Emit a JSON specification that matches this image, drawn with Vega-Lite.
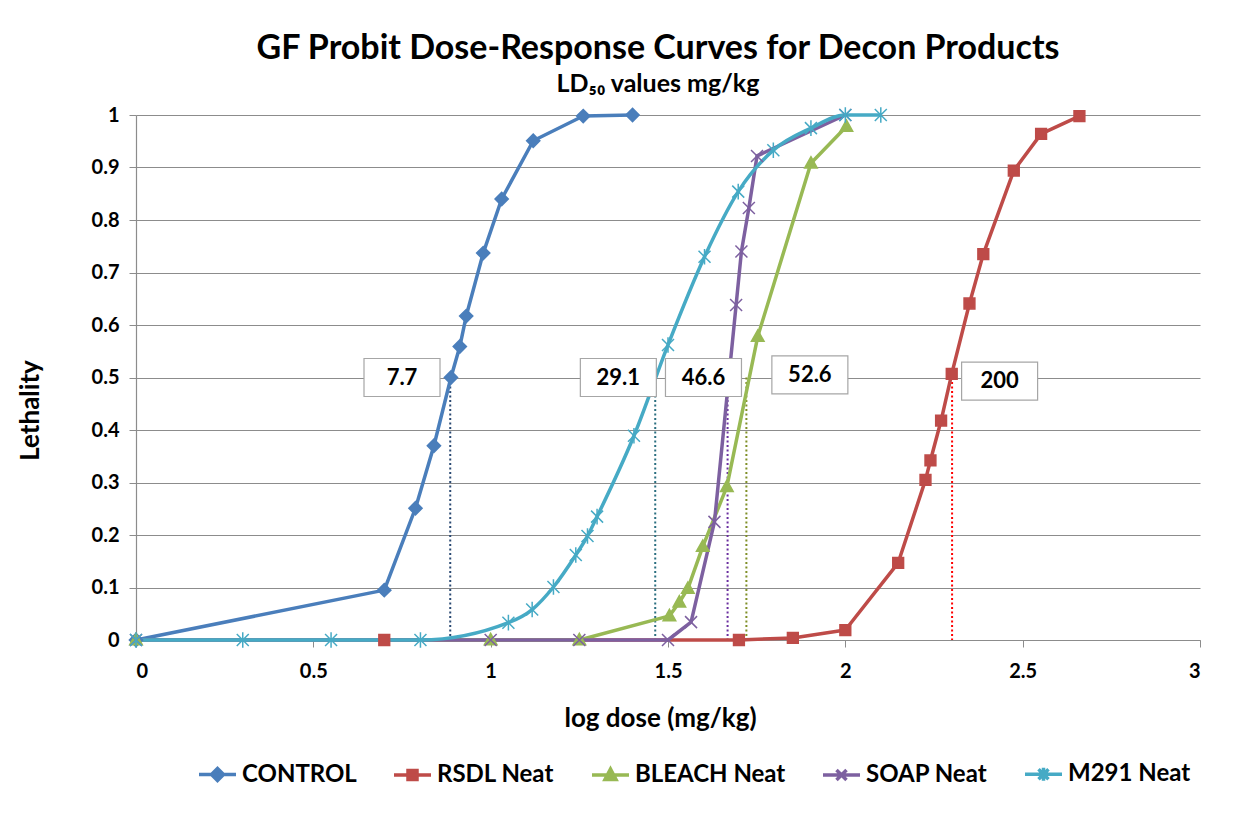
{
  "$schema": "https://vega.github.io/schema/vega-lite/v6.json",
  "width": 1064,
  "height": 525,
  "autosize": {"type": "none"},
  "padding": {"left": 136, "top": 115, "right": 40, "bottom": 189},
  "background": "white",
  "config": {
    "font": "Lato",
    "view": {"stroke": null},
    "axis": {
      "labelFont": "Lato",
      "labelFontSize": 20,
      "labelFontWeight": "bold",
      "labelColor": "black",
      "titleFont": "Lato",
      "titleFontSize": 26,
      "titleFontWeight": "bold",
      "titleColor": "black",
      "domainColor": "#8c8c8c",
      "domainWidth": 1.2,
      "tickColor": "#8c8c8c",
      "tickSize": 7,
      "gridColor": "#8c8c8c",
      "gridWidth": 1.2
    }
  },
  "title": {
    "text": "GF Probit Dose-Response Curves for Decon Products",
    "subtitle": "LD₅₀ values mg/kg",
    "font": "Lato",
    "fontSize": 34,
    "fontWeight": "bold",
    "color": "black",
    "subtitleFont": "Lato",
    "subtitleFontSize": 25,
    "subtitleFontWeight": "bold",
    "subtitleColor": "black",
    "subtitlePadding": 6,
    "anchor": "middle",
    "offset": 7,
    "dx": -10
  },
  "datasets": {
    "curves": [
      {"series": "CONTROL", "logdose": 0, "lethality": 0},
      {"series": "CONTROL", "logdose": 0.70, "lethality": 0.095},
      {"series": "CONTROL", "logdose": 0.788, "lethality": 0.251},
      {"series": "CONTROL", "logdose": 0.840, "lethality": 0.370},
      {"series": "CONTROL", "logdose": 0.888, "lethality": 0.500},
      {"series": "CONTROL", "logdose": 0.913, "lethality": 0.559},
      {"series": "CONTROL", "logdose": 0.931, "lethality": 0.617},
      {"series": "CONTROL", "logdose": 0.979, "lethality": 0.737},
      {"series": "CONTROL", "logdose": 1.031, "lethality": 0.840},
      {"series": "CONTROL", "logdose": 1.120, "lethality": 0.951},
      {"series": "CONTROL", "logdose": 1.261, "lethality": 0.998},
      {"series": "CONTROL", "logdose": 1.400, "lethality": 1.0},
      {"series": "RSDL Neat", "logdose": 0.70, "lethality": 0},
      {"series": "RSDL Neat", "logdose": 1.70, "lethality": 0},
      {"series": "RSDL Neat", "logdose": 1.852, "lethality": 0.004},
      {"series": "RSDL Neat", "logdose": 2.0, "lethality": 0.019},
      {"series": "RSDL Neat", "logdose": 2.149, "lethality": 0.147},
      {"series": "RSDL Neat", "logdose": 2.226, "lethality": 0.305},
      {"series": "RSDL Neat", "logdose": 2.240, "lethality": 0.342},
      {"series": "RSDL Neat", "logdose": 2.270, "lethality": 0.418},
      {"series": "RSDL Neat", "logdose": 2.300, "lethality": 0.507},
      {"series": "RSDL Neat", "logdose": 2.350, "lethality": 0.641},
      {"series": "RSDL Neat", "logdose": 2.389, "lethality": 0.735},
      {"series": "RSDL Neat", "logdose": 2.475, "lethality": 0.894},
      {"series": "RSDL Neat", "logdose": 2.552, "lethality": 0.964},
      {"series": "RSDL Neat", "logdose": 2.660, "lethality": 0.998},
      {"series": "BLEACH Neat", "logdose": 0, "lethality": 0},
      {"series": "BLEACH Neat", "logdose": 1.0, "lethality": 0},
      {"series": "BLEACH Neat", "logdose": 1.25, "lethality": 0},
      {"series": "BLEACH Neat", "logdose": 1.504, "lethality": 0.046},
      {"series": "BLEACH Neat", "logdose": 1.532, "lethality": 0.072},
      {"series": "BLEACH Neat", "logdose": 1.556, "lethality": 0.098},
      {"series": "BLEACH Neat", "logdose": 1.598, "lethality": 0.178},
      {"series": "BLEACH Neat", "logdose": 1.666, "lethality": 0.292},
      {"series": "BLEACH Neat", "logdose": 1.753, "lethality": 0.578},
      {"series": "BLEACH Neat", "logdose": 1.903, "lethality": 0.908},
      {"series": "BLEACH Neat", "logdose": 2.003, "lethality": 0.978},
      {"series": "SOAP Neat", "logdose": 0, "lethality": 0},
      {"series": "SOAP Neat", "logdose": 1.0, "lethality": 0},
      {"series": "SOAP Neat", "logdose": 1.25, "lethality": 0},
      {"series": "SOAP Neat", "logdose": 1.50, "lethality": 0},
      {"series": "SOAP Neat", "logdose": 1.565, "lethality": 0.034},
      {"series": "SOAP Neat", "logdose": 1.631, "lethality": 0.225},
      {"series": "SOAP Neat", "logdose": 1.692, "lethality": 0.638},
      {"series": "SOAP Neat", "logdose": 1.707, "lethality": 0.740},
      {"series": "SOAP Neat", "logdose": 1.728, "lethality": 0.823},
      {"series": "SOAP Neat", "logdose": 1.751, "lethality": 0.922},
      {"series": "SOAP Neat", "logdose": 2.0, "lethality": 1.0},
      {"series": "M291 Neat", "logdose": 0, "lethality": 0},
      {"series": "M291 Neat", "logdose": 0.301, "lethality": 0},
      {"series": "M291 Neat", "logdose": 0.550, "lethality": 0},
      {"series": "M291 Neat", "logdose": 0.802, "lethality": 0},
      {"series": "M291 Neat", "logdose": 1.050, "lethality": 0.033},
      {"series": "M291 Neat", "logdose": 1.117, "lethality": 0.058},
      {"series": "M291 Neat", "logdose": 1.177, "lethality": 0.101},
      {"series": "M291 Neat", "logdose": 1.240, "lethality": 0.162},
      {"series": "M291 Neat", "logdose": 1.273, "lethality": 0.198},
      {"series": "M291 Neat", "logdose": 1.300, "lethality": 0.235},
      {"series": "M291 Neat", "logdose": 1.404, "lethality": 0.389},
      {"series": "M291 Neat", "logdose": 1.500, "lethality": 0.562},
      {"series": "M291 Neat", "logdose": 1.603, "lethality": 0.730},
      {"series": "M291 Neat", "logdose": 1.698, "lethality": 0.854},
      {"series": "M291 Neat", "logdose": 1.797, "lethality": 0.933},
      {"series": "M291 Neat", "logdose": 1.903, "lethality": 0.975},
      {"series": "M291 Neat", "logdose": 2.0, "lethality": 1.0},
      {"series": "M291 Neat", "logdose": 2.10, "lethality": 1.0}
    ],
    "ld50": [
      {"series": "CONTROL", "logdose": 0.886, "lethality": 0.5},
      {"series": "M291 Neat", "logdose": 1.464, "lethality": 0.5},
      {"series": "SOAP Neat", "logdose": 1.668, "lethality": 0.5},
      {"series": "BLEACH Neat", "logdose": 1.721, "lethality": 0.5},
      {"series": "RSDL Neat", "logdose": 2.301, "lethality": 0.5}
    ],
    "labels": [
      {"label": "7.7", "logdose": 0.75, "lethality": 0.5},
      {"label": "29.1", "logdose": 1.36, "lethality": 0.5},
      {"label": "46.6", "logdose": 1.60, "lethality": 0.5},
      {"label": "52.6", "logdose": 1.90, "lethality": 0.505},
      {"label": "200", "logdose": 2.435, "lethality": 0.493}
    ]
  },
  "encoding": {
    "x": {
      "field": "logdose",
      "type": "quantitative",
      "scale": {"domain": [0, 3], "nice": false, "zero": false},
      "axis": {
        "title": "log dose (mg/kg)",
        "values": [0, 0.5, 1, 1.5, 2, 2.5, 3],
        "format": "~g",
        "grid": false,
        "labelPadding": 14,
        "titleX": 524,
        "titleY": 78,
        "titleBaseline": "middle"
      }
    },
    "y": {
      "field": "lethality",
      "type": "quantitative",
      "scale": {"domain": [0, 1], "nice": false},
      "axis": {
        "title": "Lethality",
        "values": [0, 0.1, 0.2, 0.3, 0.4, 0.5, 0.6, 0.7, 0.8, 0.9, 1],
        "format": "~g",
        "grid": true,
        "labelPadding": 10,
        "titleX": -106,
        "titleY": 295,
        "titleAngle": -90,
        "titleAlign": "center",
        "titleBaseline": "middle"
      }
    }
  },
  "layer": [
    {
      "data": {"name": "ld50"},
      "mark": {"type": "rule", "strokeDash": [2, 2.5], "strokeWidth": 2},
      "encoding": {
        "y2": {"datum": 0},
        "color": {
          "field": "series",
          "type": "nominal",
          "scale": {
            "domain": ["M291 Neat", "SOAP Neat", "BLEACH Neat", "RSDL Neat", "CONTROL"],
            "range": ["#2b6f80", "#6a2fa0", "#7f8f26", "#ff0000", "#2a4a73"]
          },
          "legend": null
        }
      }
    },
    {
      "data": {"name": "curves"},
      "transform": [{"filter": "datum.series !== 'M291 Neat'"}],
      "mark": {"type": "line", "strokeWidth": 3.5, "strokeJoin": "round"},
      "encoding": {
        "stroke": {
          "field": "series",
          "type": "nominal",
          "scale": {
            "domain": ["CONTROL", "RSDL Neat", "BLEACH Neat", "SOAP Neat", "M291 Neat"],
            "range": ["#4a7ebb", "#be4b48", "#98b954", "#7d60a0", "#46aac5"]
          },
          "legend": {
            "title": null,
            "orient": "none",
            "direction": "horizontal",
            "legendX": 56,
            "legendY": 647,
            "padding": 0,
            "labelFont": "Lato",
            "labelFontSize": 24,
            "labelFontWeight": "bold",
            "labelColor": "black",
            "symbolSize": 100,
            "labelOffset": 26,
            "columnPadding": 30,
            "symbolStrokeWidth": 3.5,
            "encode": {
              "symbols": {
                "update": {
                  "shape": {"signal": "datum.value === 'CONTROL' ? 'M-1,0H6.4M2.7,-1.2L3.9,0L2.7,1.2L1.5,0Z' : datum.value === 'RSDL Neat' ? 'M-1,0H6.4M1.8,-0.9H3.6V0.9H1.8Z' : datum.value === 'BLEACH Neat' ? 'M-1,0H6.4M2.7,-1.2L3.8,0.9H1.6Z' : datum.value === 'SOAP Neat' ? 'M-1,0H6.4M1.7,-1L3.7,1M1.7,1L3.7,-1' : 'M-1,0H6.4M1.7,-1L3.7,1M1.7,1L3.7,-1M2.7,-1.3V1.3'"},
                  "fill": {"signal": "scale('stroke', datum.value)"}
                }
              }
            }
          }
        }
      }
    },
    {
      "data": {"name": "curves"},
      "transform": [{"filter": "datum.series === 'M291 Neat'"}],
      "mark": {"type": "line", "strokeWidth": 3.5, "interpolate": "monotone"},
      "encoding": {
        "stroke": {"field": "series", "type": "nominal"}
      }
    },
    {
      "data": {"name": "curves"},
      "mark": {"type": "point", "filled": true, "opacity": 1, "size": 144, "strokeWidth": 1.5},
      "encoding": {
        "shape": {
          "field": "series",
          "type": "nominal",
          "scale": {
            "domain": ["M291 Neat", "SOAP Neat", "BLEACH Neat", "RSDL Neat", "CONTROL"],
            "range": [
              "M-1,-1L1,1M-1,1L1,-1M0,-1.3V1.3",
              "M-1,-1L1,1M-1,1L1,-1",
              "M0,-1.1L1.05,0.8H-1.05Z",
              "M-0.9,-0.9H0.9V0.9H-0.9Z",
              "M0,-1.1L1.1,0L0,1.1L-1.1,0Z"
            ]
          },
          "legend": null
        },
        "fill": {
          "field": "series",
          "type": "nominal",
          "scale": {
            "domain": ["M291 Neat", "SOAP Neat", "BLEACH Neat", "RSDL Neat", "CONTROL"],
            "range": ["#46aac5", "#7d60a0", "#98b954", "#be4b48", "#4a7ebb"]
          },
          "legend": null
        },
        "stroke": {"field": "series", "type": "nominal"}
      }
    },
    {
      "data": {"name": "labels"},
      "mark": {"type": "point", "shape": "M-1,-0.5H1V0.5H-1Z", "size": 5776, "filled": true, "fill": "white", "stroke": "#a6a6a6", "strokeWidth": 1.2, "opacity": 1}
    },
    {
      "data": {"name": "labels"},
      "mark": {"type": "text", "font": "Lato", "fontSize": 22, "fontWeight": "bold", "color": "black", "align": "center", "baseline": "middle"},
      "encoding": {
        "text": {"field": "label", "type": "nominal"}
      }
    }
  ]
}
